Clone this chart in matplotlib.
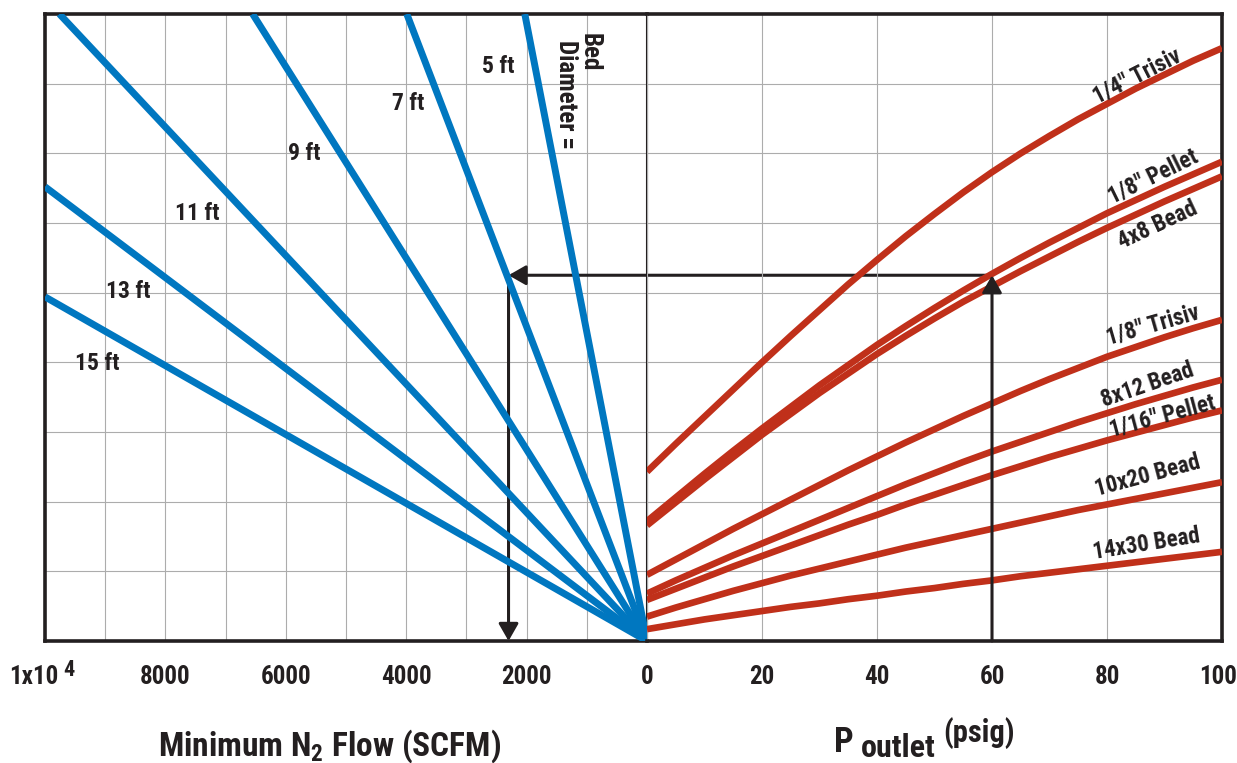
import matplotlib
matplotlib.use('Agg')
import matplotlib.pyplot as plt
from matplotlib import font_manager

# ---- data ----
# left panel: minimum N2 flow lines, one per bed diameter, all from the origin
bed_labels = ['5 ft', '7 ft', '9 ft', '11 ft', '13 ft', '15 ft']
bed_end_flow = [2030, 3990, 6550, 9760, 10000, 10000]   # SCFM at the far end
bed_end_y = [9.0, 9.0, 9.0, 9.0, 6.52, 4.94]            # height at the far end

# right panel: curves vs outlet pressure
p_outlet = [0, 5, 10, 15, 20, 25, 30, 35, 40, 45, 50,
            55, 60, 65, 70, 75, 80, 85, 90, 95, 100]
sieve_labels = ['1/4\u2033 Trisiv', '1/8\u2033 Pellet', '4x8 Bead', '1/8\u2033 Trisiv',
                '8x12 Bead', '1/16\u2033 Pellet', '10x20 Bead', '14x30 Bead']
trisiv_14 = [2.43, 2.83, 3.22, 3.61, 4.00, 4.38, 4.75, 5.12, 5.47, 5.81, 6.13,
             6.44, 6.73, 7.00, 7.25, 7.49, 7.71, 7.93, 8.13, 8.33, 8.51]
pellet_18 = [1.72, 2.06, 2.40, 2.73, 3.05, 3.36, 3.67, 3.96, 4.25, 4.52, 4.78,
             5.03, 5.27, 5.50, 5.72, 5.93, 6.14, 6.33, 6.52, 6.70, 6.88]
bead_4x8 = [1.66, 1.99, 2.32, 2.64, 2.96, 3.26, 3.56, 3.84, 4.12, 4.38, 4.63,
            4.87, 5.09, 5.31, 5.52, 5.73, 5.93, 6.12, 6.31, 6.49, 6.67]
trisiv_18 = [0.95, 1.17, 1.39, 1.61, 1.82, 2.03, 2.24, 2.45, 2.65, 2.85, 3.04,
             3.23, 3.41, 3.59, 3.76, 3.92, 4.08, 4.22, 4.36, 4.49, 4.61]
bead_8x12 = [0.68, 0.87, 1.05, 1.23, 1.40, 1.57, 1.74, 1.91, 2.08, 2.25, 2.41,
             2.57, 2.72, 2.86, 3.00, 3.14, 3.27, 3.40, 3.52, 3.64, 3.75]
pellet_116 = [0.59, 0.75, 0.91, 1.07, 1.22, 1.37, 1.52, 1.67, 1.81, 1.96, 2.10,
              2.24, 2.38, 2.51, 2.64, 2.76, 2.88, 2.99, 3.10, 3.21, 3.31]
bead_10x20 = [0.35, 0.48, 0.60, 0.72, 0.83, 0.94, 1.04, 1.14, 1.24, 1.34, 1.43,
              1.52, 1.61, 1.70, 1.79, 1.88, 1.96, 2.04, 2.12, 2.20, 2.28]
bead_14x30 = [0.17, 0.24, 0.31, 0.37, 0.43, 0.49, 0.54, 0.60, 0.65, 0.71, 0.76,
              0.82, 0.87, 0.93, 0.98, 1.03, 1.08, 1.13, 1.18, 1.23, 1.28]
sieve_curves = [trisiv_14, pellet_18, bead_4x8, trisiv_18,
                bead_8x12, pellet_116, bead_10x20, bead_14x30]

# worked example shown by the arrows
example_p = 60
example_flow = 2300
example_y = 5.25

flow_ticks = [8000, 6000, 4000, 2000, 0]
p_ticks = [20, 40, 60, 80, 100]

# ---- label placement (layout, not data) ----
bed_label_pos = [(2475, 8.25), (3970, 7.71), (5698, 7.00), (7475, 6.14), (8621, 5.01), (9136, 3.99)]
sieve_label_pos = [(85.2, 8.11, 27), (88.0, 6.67, 26), (88.9, 5.97, 25), (88.0, 4.54, 16),
                   (87.0, 3.67, 19), (89.6, 3.23, 15), (87.0, 2.37, 15), (86.8, 1.39, 9)]

installed = {f.name for f in font_manager.fontManager.ttflist}
narrow = [n for n in ['Liberation Sans Narrow', 'Roboto Condensed'] if n in installed]
if narrow:
    plt.rcParams['font.family'] = [narrow[0], 'DejaVu Sans']
    scale = 1.0
else:
    plt.rcParams['font.family'] = ['Liberation Sans', 'DejaVu Sans']
    scale = 0.88
plt.rcParams['font.weight'] = 'bold'
plt.rcParams['mathtext.default'] = 'regular'

BLUE = '#0077c0'
RED = '#c0301a'
INK = '#231f20'
GRID = '#acacac'

W, H = 1237, 763
fig = plt.figure(figsize=(W / 100, H / 100), dpi=100)
ax_l = fig.add_axes([45 / W, (H - 641) / H, 602 / W, 627 / H])
ax_r = fig.add_axes([647 / W, (H - 641) / H, 575 / W, 627 / H])
ax_r.set_facecolor('none')

for ax in (ax_l, ax_r):
    ax.set_ylim(0, 9)
    ax.set_yticks(range(0, 10))
    ax.set_yticklabels([])
    ax.tick_params(length=0)
    ax.grid(True, color=GRID, lw=0.8)
    ax.set_axisbelow(True)
    for s in ax.spines.values():
        s.set_color(INK)
        s.set_linewidth(2.6)

ax_l.set_xlim(10000, 0)
ax_l.set_xticks(range(0, 10001, 1000))
ax_l.set_xticklabels([])
ax_l.spines['right'].set_linewidth(1.5)
ax_r.spines['left'].set_visible(False)
ax_r.set_xlim(0, 100)
ax_r.set_xticks([0] + p_ticks)
ax_r.set_xticklabels([])

# tick labels placed as text so the grid can be finer than the labels
def tick_text(ax, x, lab, dx=0, dy=-26, size=18):
    ax.annotate(lab, xy=(x, 0), xycoords=('data', 'axes fraction'), xytext=(dx, dy),
                textcoords='offset points', ha='center', va='center',
                fontsize=size * scale, fontweight='bold', color=INK, annotation_clip=False)

for t in flow_ticks:
    tick_text(ax_l, t, str(t))
tick_text(ax_l, 10000, '1x10', dx=-8)
tick_text(ax_l, 10000, '4', dx=17.5, dy=-21, size=16)
for t in p_ticks:
    tick_text(ax_r, t, str(t), dx=-3 if t == 100 else 0)

# blue bed-diameter lines
for lab, fx, fy, pos in zip(bed_labels, bed_end_flow, bed_end_y, bed_label_pos):
    ax_l.plot([0, fx], [0, fy], color=BLUE, lw=5.0, solid_capstyle='butt', zorder=3)
    ax_l.text(pos[0], pos[1], lab, ha='center', va='center', fontsize=17 * scale,
              fontweight='bold', color=INK, zorder=4)
ax_l.text(947, 8.73, 'Bed', rotation=270, ha='center', va='top',
          fontsize=18 * scale, fontweight='bold', color=INK)
ax_l.text(1346, 8.63, 'Diameter =', rotation=270, ha='center', va='top',
          fontsize=18 * scale, fontweight='bold', color=INK)

# red sieve curves
for lab, ys, pos in zip(sieve_labels, sieve_curves, sieve_label_pos):
    ax_r.plot(p_outlet, ys, color=RED, lw=4.8, solid_capstyle='butt',
              solid_joinstyle='round', zorder=3)
    ax_r.text(pos[0], pos[1], lab, rotation=pos[2], rotation_mode='anchor',
              ha='center', va='center', fontsize=16.5 * scale, fontweight='bold', color=INK)

# worked-example arrows
arrow = dict(arrowstyle='-|>,head_length=0.42,head_width=0.24', color=INK, lw=2.2,
             shrinkA=0, shrinkB=0, mutation_scale=25)
ax_r.annotate('', xy=(example_p, example_y), xytext=(example_p, 0), arrowprops=arrow,
              zorder=4, annotation_clip=False)
ax_l.annotate('', xy=(example_flow, example_y), xycoords='data',
              xytext=(example_p, example_y), textcoords=ax_r.transData,
              arrowprops=arrow, zorder=2.5, annotation_clip=False)
ax_l.annotate('', xy=(example_flow, 0), xytext=(example_flow, example_y), arrowprops=arrow,
              zorder=2.5, annotation_clip=False)

# axis titles
fig.text(330 / W, 1 - 756 / H, 'Minimum N$_2$ Flow (SCFM)', ha='center', va='baseline',
         fontsize=24 * scale, fontweight='bold', color=INK)
fig.text(834 / W, 1 - 752 / H, 'P', ha='left', va='baseline',
         fontsize=25 * scale, fontweight='bold', color=INK)
fig.text(861 / W, 1 - 757 / H, 'outlet', ha='left', va='baseline',
         fontsize=23 * scale, fontweight='bold', color=INK)
fig.text(943 / W, 1 - 742 / H, '(psig)', ha='left', va='baseline',
         fontsize=22 * scale, fontweight='bold', color=INK)

fig.savefig('out.png', dpi=100)
